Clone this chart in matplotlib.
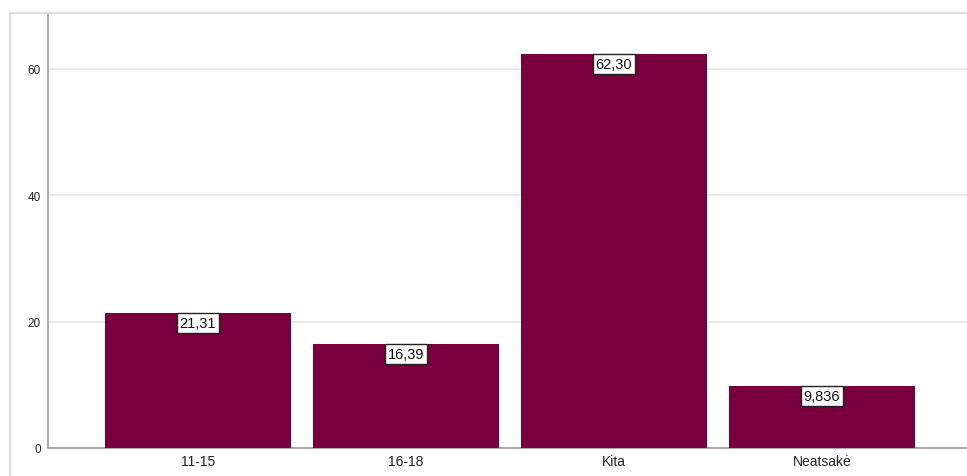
import matplotlib
matplotlib.use("Agg")
import matplotlib.pyplot as plt
from matplotlib.lines import Line2D

categories = ["11-15", "16-18", "Kita", "Neatsakė"]
values = [21.31, 16.39, 62.30, 9.836]
value_labels = ["21,31", "16,39", "62,30", "9,836"]
yticks = [0, 20, 40, 60]

plt.rcParams['font.family'] = ['Liberation Sans', 'DejaVu Sans']

W, H = 967, 477
fig = plt.figure(figsize=(W / 100, H / 100), dpi=100)
ax = fig.add_axes([48 / W, (H - 449) / H, 1 - 48 / W, (449 - 15) / H])

x = list(range(len(categories)))
ax.bar(x, values, width=186 / 208, color="#79003c", edgecolor="none", zorder=3)

ax.set_xlim(-150 / 208, 3 + (967 - 822) / 208)
ax.set_ylim(0, 434 / 6.317)
ax.set_yticks(yticks)
ax.set_yticklabels([str(t) for t in yticks], fontsize=8.5, color="#222222")
ax.set_xticks(x)
ax.set_xticklabels(categories, fontsize=10, color="#222222")
ax.tick_params(axis="both", length=0)
ax.tick_params(axis="y", pad=5)
ax.tick_params(axis="x", pad=4)

ax.grid(axis="y", color="#e6e6e6", linewidth=1.2, zorder=0)
for s in ["top", "right"]:
    ax.spines[s].set_visible(False)
for s in ["left", "bottom"]:
    ax.spines[s].set_color("#9a9a9a")
    ax.spines[s].set_linewidth(1.2)

for xi, v, lab in zip(x, values, value_labels):
    ax.annotate(lab, xy=(xi, v), xytext=(0, -2), textcoords="offset points",
                ha="center", va="top", fontsize=10.5, color="#111111", zorder=5,
                bbox=dict(boxstyle="square,pad=0.2", facecolor="white",
                          edgecolor="#222222", linewidth=1.0))

# outer frame
fig.add_artist(Line2D([9.5 / W, 1.0], [1 - 13.5 / H, 1 - 13.5 / H],
                      transform=fig.transFigure, color="#dcdcdc", linewidth=1.6))
fig.add_artist(Line2D([9.5 / W, 9.5 / W], [0, 1 - 13.5 / H],
                      transform=fig.transFigure, color="#dcdcdc", linewidth=1.6))

fig.savefig("out.png", dpi=100)
